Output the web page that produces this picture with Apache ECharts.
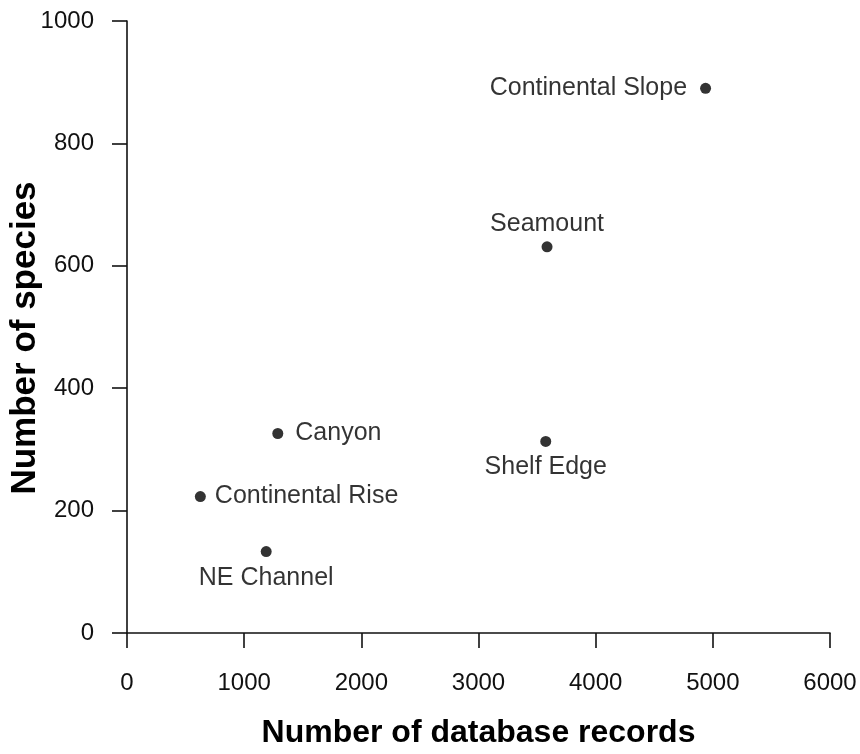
<!DOCTYPE html>
<html>
<head>
<meta charset="utf-8">
<script src="https://cdn.jsdelivr.net/npm/echarts@6/dist/echarts.min.js"></script>
<style>html,body{margin:0;padding:0;background:#fff;}#chart{width:860px;height:754px;}</style>
</head>
<body>
<div id="chart"></div>
<script>
const habitats = ['Continental Slope', 'Seamount', 'Shelf Edge', 'Canyon', 'Continental Rise', 'NE Channel'];
const records = [4938, 3585, 3574, 1287, 626, 1188];
const species = [890, 631, 313, 326, 223, 133];
const labelPositions = ['left', 'top', 'bottom', 'right', 'right', 'bottom'];
const labelDistances = [13, 5, 8, 12, 9, 9];
const xTitle = 'Number of database records';
const yTitle = 'Number of species';

const FONT = "'Liberation Sans', Arial, sans-serif";
const INK = '#111';

const points = habitats.map((h, i) => ({
  name: h,
  value: [records[i], species[i]],
  label: { position: labelPositions[i], distance: labelDistances[i] }
}));

const axisCommon = {
  type: 'value',
  splitLine: { show: false },
  axisLine: { show: true, lineStyle: { color: INK, width: 1.6 } },
  axisTick: { show: true, inside: false, length: 15, lineStyle: { color: INK, width: 1.6 } },
  nameLocation: 'middle',
  nameMoveOverlap: false,
  nameTextStyle: { fontFamily: FONT, fontWeight: 'bold', fontSize: 32, color: '#000' },
  axisLabel: { fontFamily: FONT, fontSize: 24, color: INK, formatter: v => String(v) }
};

const chart = echarts.init(document.getElementById('chart'), null, { renderer: 'canvas' });
chart.setOption({
  backgroundColor: '#fff',
  animation: false,
  grid: { left: 127, right: 30, top: 21, bottom: 121, containLabel: false, outerBoundsMode: 'none' },
  xAxis: Object.assign({}, axisCommon, {
    min: 0, max: 6000, interval: 1000,
    name: xTitle, nameGap: 84,
    axisLabel: Object.assign({}, axisCommon.axisLabel, { margin: 38 })
  }),
  yAxis: Object.assign({}, axisCommon, {
    min: 0, max: 1000, interval: 200,
    name: yTitle, nameGap: 84,
    nameTextStyle: Object.assign({}, axisCommon.nameTextStyle, { fontSize: 35, padding: [0, 22, 0, 0] }),
    axisLabel: Object.assign({}, axisCommon.axisLabel, { margin: 33 })
  }),
  series: [{
    type: 'scatter',
    symbol: 'circle',
    symbolSize: 11,
    itemStyle: { color: '#000' },
    label: {
      show: true,
      formatter: '{b}',
      fontFamily: FONT,
      fontSize: 25,
      color: '#000'
    },
    data: points
  }]
});
</script>
</body>
</html>
